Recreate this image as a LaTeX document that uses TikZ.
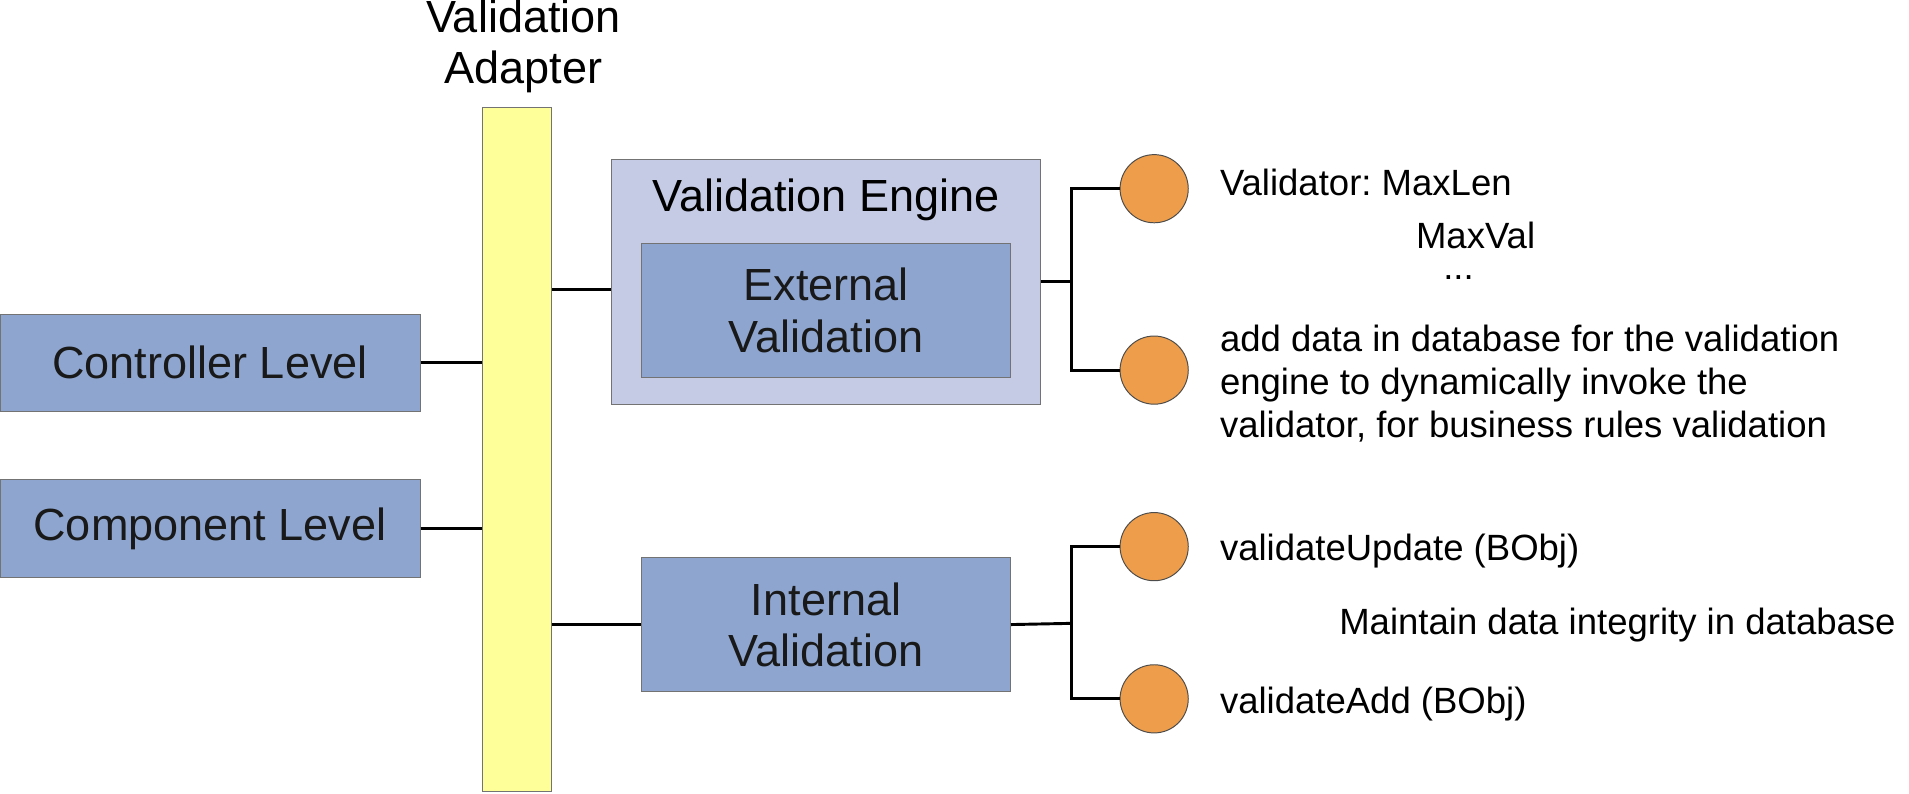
\documentclass[tikz,border=0pt]{standalone}
\usepackage{fontspec}
\setmainfont{Liberation Sans}
\frenchspacing
\usetikzlibrary{positioning}
\definecolor{boxblue}{HTML}{8EA6CF}
\definecolor{enginebg}{HTML}{C5CBE5}
\definecolor{adapteryel}{HTML}{FFFF99}
\definecolor{dotorange}{HTML}{EE9D4A}
\tikzset{
    level/.style={draw=black!55, fill=boxblue, minimum width=172.5pt, minimum height=40pt,
        font=\fontsize{18.5}{21}\selectfont, text=black!90},
    check/.style={draw=black!55, fill=boxblue, minimum width=151.5pt, minimum height=55pt,
        align=center, font=\fontsize{18.5}{21}\selectfont, text=black!90},
    rule/.style={circle, draw=black!70, fill=dotorange, minimum size=28pt, inner sep=0pt},
    note/.style={font=\fontsize{15}{17.5}\selectfont, anchor=west, align=left},
    wire/.style={line width=1.2pt}
}
\begin{document}
\begin{tikzpicture}[x=0.5pt, y=-0.5pt]
    \useasboundingbox (0,0) rectangle (1568,652);
    % adapter bar
    \node (adapter) [draw=black!55, fill=adapteryel, minimum width=28.5pt, minimum height=281pt,
        inner sep=0pt] at (424.5,369) {};
    \node (adlabel) [align=center, font=\fontsize{18.5}{21}\selectfont] at (430,38)
        {Validation\\Adapter};
    % levels
    \node (ctrl) [level] at (172.5,298) {Controller Level};
    \node (comp) [level] at (172.5,434) {Component Level};
    % engine
    \node (engine) [draw=black!55, fill=enginebg, minimum width=176.5pt, minimum height=100.5pt,
        inner sep=0pt] at (678.5,231.5) {};
    \node (engtitle) [font=\fontsize{18.5}{21}\selectfont] at (678.5,164) {Validation Engine};
    \node (extval) [check] at (678.5,255) {External\\Validation};
    \node (intval) [check] at (678.5,513) {Internal\\Validation};
    % rules
    \node (maxlen) [rule] at (948,155) {};
    \node (dynval) [rule] at (948,304) {};
    \node (upd) [rule] at (948,449) {};
    \node (add) [rule] at (948,574) {};
    \coordinate (forkA) at (880,231);
    \coordinate (forkB) at (880,512);
    % connectors
    \draw[wire] (ctrl.east) -- (ctrl.east -| adapter.west);
    \draw[wire] (comp.east) -- (comp.east -| adapter.west);
    \draw[wire] (adapter.east |- 0,238) -- (engine.west |- 0,238);
    \draw[wire] (adapter.east |- intval.west) -- (intval.west);
    \draw[wire] (engine.east |- forkA) -- (forkA);
    \draw[wire] (maxlen.west) -| (forkA) |- (dynval.west);
    \draw[wire] (intval.east) -- (forkB);
    \draw[wire] (upd.west) -| (forkB) |- (add.west);
    % texts
    \node (t1) [note] at (995,150) {Validator: MaxLen};
    \node (t2) [note, anchor=center, inner sep=0pt] at (1212,193) {MaxVal};
    \node (t3) [note, anchor=center, inner sep=0pt] at (1198,228) {...};
    \node (t4) [note] at (995,315) {add data in database for the validation\\engine to dynamically invoke the\\validator, for business rules validation};
    \node (t5) [note] at (995,453) {validateUpdate (BObj)};
    \node (t6) [note] at (1093,513) {Maintain data integrity in database};
    \node (t7) [note] at (995,578) {validateAdd (BObj)};
\end{tikzpicture}
\end{document}
